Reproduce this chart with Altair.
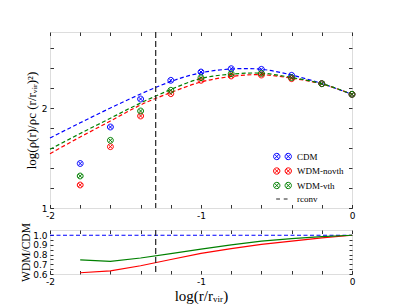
import altair as alt
import pandas as pd

# ---------------- data ----------------
series = ["CDM", "WDM-novth", "WDM-vth"]
colors = ["#0000ff", "#ff0000", "#008000"]

r_pts = [-1.8, -1.6, -1.4, -1.2, -1.0, -0.8, -0.6, -0.4, -0.2, 0.0]
cdm_pts = [1.445, 1.81, 2.09, 2.277, 2.36, 2.393, 2.387, 2.327, 2.243, 2.137]
novth_pts = [1.23, 1.613, 1.92, 2.143, 2.277, 2.32, 2.33, 2.293, 2.243, 2.137]
vth_pts = [1.32, 1.677, 1.97, 2.177, 2.303, 2.343, 2.347, 2.303, 2.243, 2.137]

r_fit = [-2.0, -1.8, -1.6, -1.4, -1.2, -1.0, -0.8, -0.6, -0.4, -0.2, 0.0]
cdm_fit = [1.70, 1.852, 2.0, 2.14, 2.265, 2.352, 2.39, 2.387, 2.33, 2.245, 2.137]
novth_fit = [1.543, 1.71, 1.87, 2.03, 2.155, 2.26, 2.315, 2.333, 2.298, 2.24, 2.137]
vth_fit = [1.587, 1.745, 1.898, 2.05, 2.185, 2.295, 2.338, 2.348, 2.305, 2.243, 2.137]

novth_ratio = [0.613, 0.632, 0.685, 0.75, 0.813, 0.862, 0.905, 0.94, 0.972, 1.0]
vth_ratio = [0.745, 0.73, 0.765, 0.81, 0.856, 0.90, 0.94, 0.965, 0.985, 1.0]
cdm_ratio_r = [-2.0, 0.0]
cdm_ratio = [1.0, 1.0]

r_conv = [-1.3]
legend_names = ["CDM", "WDM-novth", "WDM-vth", "rconv"]

x_ticks = [-2.0, -1.8, -1.6, -1.4, -1.2, -1.0, -0.8, -0.6, -0.4, -0.2, 0.0]
y_ticks_top = [1.0, 1.2, 1.4, 1.6, 1.8, 2.0, 2.2, 2.4, 2.6]
y_ticks_bot = [0.6, 0.65, 0.7, 0.75, 0.8, 0.85, 0.9, 0.95, 1.0]

# ---------------- tables ----------------
pts_df = pd.concat([
    pd.DataFrame({"r": r_pts, "v": vals, "series": s, "col": c})
    for s, c, vals in zip(series, colors, [cdm_pts, novth_pts, vth_pts])
], ignore_index=True)
fit_df = pd.concat([
    pd.DataFrame({"r": r_fit, "v": vals, "series": s, "col": c})
    for s, c, vals in zip(series, colors, [cdm_fit, novth_fit, vth_fit])
], ignore_index=True)
conv_df = pd.DataFrame({"r": r_conv})
red_df = pd.DataFrame({"r": r_pts, "v": novth_ratio})
green_df = pd.DataFrame({"r": r_pts, "v": vth_ratio})
blue_df = pd.DataFrame({"r": cdm_ratio_r, "v": cdm_ratio})

W, HT, HB = 302, 176, 44
SANS = "DejaVu Sans"
SERIF = "Liberation Serif"

OTIMES = "M1,0A1,1 0 1,1 -1,0A1,1 0 1,1 1,0Z M-0.7,-0.7L0.7,0.7 M-0.7,0.7L0.7,-0.7"
def double_otimes(d=1.82):
    parts = []
    for cx in (-d, d):
        parts.append(
            f"M{cx+1},0A1,1 0 1,1 {cx-1},0A1,1 0 1,1 {cx+1},0Z "
            f"M{cx-0.7},-0.7L{cx+0.7},0.7 M{cx-0.7},0.7L{cx+0.7},-0.7"
        )
    return " ".join(parts)
DASH_SYM = "M-2.0,0L-0.8,0M0.4,0L1.6,0"
shape_range = [double_otimes(), double_otimes(), double_otimes(), DASH_SYM]
legend_colors = colors + ["#222222"]

xscale = alt.Scale(domain=[-2, 0], nice=False, zero=False)
yscale_top = alt.Scale(domain=[1, 2.76], nice=False, zero=False)
yscale_bot = alt.Scale(domain=[0.6, 1.054], nice=False, zero=False)

int_label = "datum.value % 1 == 0 ? toString(datum.value) : ''"
dec_label = "abs(datum.value*10 - round(datum.value*10)) < 1e-6 ? format(datum.value, '.1f') : ''"


def label_axis_x(title=None, title_size=15, title_pad=4):
    kw = dict(orient="bottom", values=x_ticks, labelExpr=int_label, ticks=False, tickSize=0,
              domain=False, grid=False, labelFont=SANS, labelFontSize=9, labelPadding=3,
              labelColor="black", labelFlush=False)
    if title is None:
        kw["title"] = None
    else:
        kw.update(title=title, titleFont=SERIF, titleFontSize=title_size, titleFontWeight="normal",
                  titleColor="black", titlePadding=title_pad)
    return alt.Axis(**kw)


def tick_axis(orient, offset, values, size=3.5):
    return alt.Axis(orient=orient, offset=offset, values=values, labels=False, domain=False,
                    grid=False, ticks=True, tickSize=size, tickColor="black", tickWidth=0.8,
                    title=None)


def label_axis_y(values, expr, title, title_size, title_pad):
    return alt.Axis(orient="left", values=values, labelExpr=expr, ticks=False, tickSize=0,
                    domain=False, grid=False, labelFont=SANS, labelFontSize=9, labelPadding=3,
                    labelColor="black", labelFlush=False, title=title, titleFont=SERIF,
                    titleFontSize=title_size, titleFontWeight="normal", titleColor="black",
                    titlePadding=title_pad)


leg = dict(title=None, orient="none", legendX=228, legendY=120,
           symbolOpacity=1, symbolSize=40, symbolStrokeWidth=1,
           labelFont=SERIF, labelFontSize=9, labelColor="black",
           labelOffset=10, rowPadding=3.5, padding=0)

# ---------------- top panel ----------------
curves = alt.Chart(fit_df).mark_line(strokeDash=[4, 2.5], strokeWidth=1.2, interpolate="natural").encode(
    x=alt.X("r:Q", scale=xscale, axis=label_axis_x()),
    y=alt.Y("v:Q", scale=yscale_top,
            axis=label_axis_y(y_ticks_top, int_label, "log(ρ(r)/ρc (r/rᵥᵢᵣ)²)", 13, 3)),
    color=alt.Color("col:N", scale=None),
    detail="series:N",
)

points = alt.Chart(pts_df).mark_point(shape=OTIMES, filled=False, size=34, strokeWidth=1, opacity=1).encode(
    x=alt.X("r:Q", scale=xscale, axis=tick_axis("top", -HT, x_ticks)),
    y=alt.Y("v:Q", scale=yscale_top, axis=tick_axis("right", -W, y_ticks_top)),
    color=alt.Color("col:N", scale=None),
)

legend_layer = alt.Chart(pts_df).mark_point(filled=False, opacity=0, size=40, strokeWidth=1).encode(
    x=alt.X("r:Q", scale=xscale, axis=tick_axis("bottom", -HT, x_ticks)),
    y=alt.Y("v:Q", scale=yscale_top, axis=tick_axis("left", -W, y_ticks_top)),
    color=alt.Color("series:N", scale=alt.Scale(domain=legend_names, range=legend_colors),
                    legend=alt.Legend(**leg)),
    shape=alt.Shape("series:N", scale=alt.Scale(domain=legend_names, range=shape_range),
                    legend=alt.Legend(**leg)),
)

vline_top = alt.Chart(conv_df).mark_rule(strokeDash=[6, 3], strokeWidth=1.2, color="#222222").encode(
    x=alt.X("r:Q", scale=xscale, axis=None),
)

top = alt.layer(curves, points, legend_layer, vline_top).resolve_axis(
    x="independent", y="independent"
).properties(width=W, height=HT)

# ---------------- bottom panel ----------------
blue_line = alt.Chart(blue_df).mark_line(strokeDash=[4, 2.5], strokeWidth=1.2, color=colors[0]).encode(
    x=alt.X("r:Q", scale=xscale, axis=label_axis_x("log(r/rᵥᵢᵣ)", 15, 2)),
    y=alt.Y("v:Q", scale=yscale_bot,
            axis=label_axis_y(y_ticks_bot, dec_label, "WDM/CDM", 11.5, 1)),
)
red_line = alt.Chart(red_df).mark_line(strokeWidth=1.2, color=colors[1]).encode(
    x=alt.X("r:Q", scale=xscale, axis=tick_axis("top", -HB, x_ticks)),
    y=alt.Y("v:Q", scale=yscale_bot, axis=tick_axis("right", -W, y_ticks_bot, 3)),
)
green_line = alt.Chart(green_df).mark_line(strokeWidth=1.2, color=colors[2]).encode(
    x=alt.X("r:Q", scale=xscale, axis=tick_axis("bottom", -HB, x_ticks)),
    y=alt.Y("v:Q", scale=yscale_bot, axis=tick_axis("left", -W, y_ticks_bot, 3)),
)
vline_bot = alt.Chart(conv_df).mark_rule(strokeDash=[6, 3], strokeWidth=1.2, color="#222222").encode(
    x=alt.X("r:Q", scale=xscale, axis=None),
)

bottom = alt.layer(blue_line, red_line, green_line, vline_bot).resolve_axis(
    x="independent", y="independent"
).properties(width=W, height=HB)

chart = alt.vconcat(top, bottom, spacing=22, bounds="flush").resolve_scale(
    color="independent", shape="independent"
).resolve_legend(color="independent", shape="independent").properties(
    padding={"left": 12, "top": 22, "right": 5, "bottom": 0}
).configure_view(stroke="black", strokeWidth=1.1).configure(background="white")

chart.save("out.html", embed_options={"renderer": "svg", "actions": False})
